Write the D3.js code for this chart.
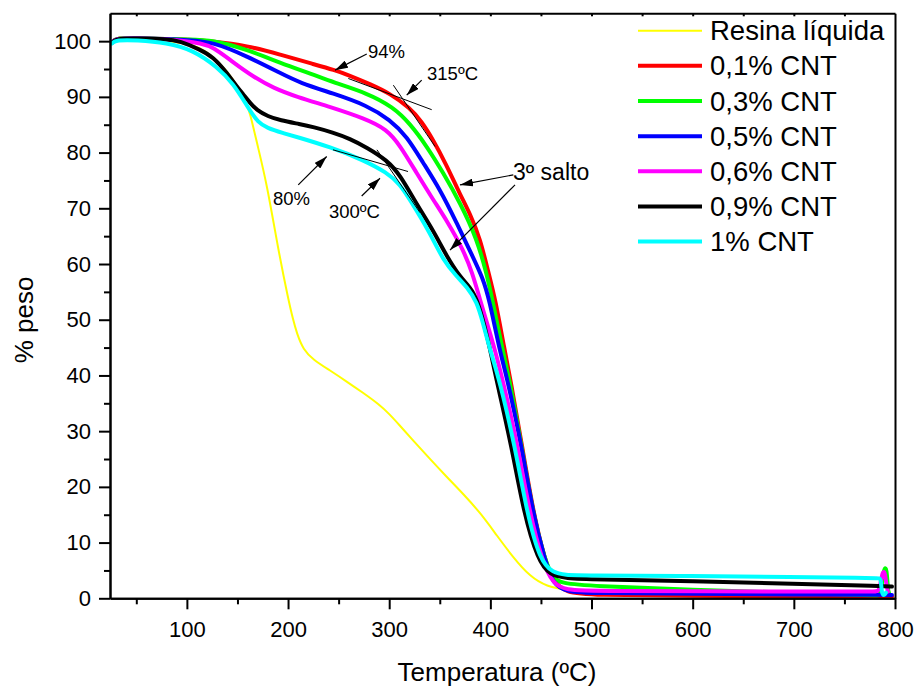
<!DOCTYPE html>
<html>
<head>
<meta charset="utf-8">
<script src="https://cdn.jsdelivr.net/npm/d3@7"></script>
<style>
  body { margin: 0; background: #fff; }
  svg { display: block; }
  text { font-family: "Liberation Sans", Arial, Helvetica, sans-serif; fill: #000; }
</style>
</head>
<body>
<svg id="chart" width="916" height="689"></svg>
<script>
// ---- TGA curves: [temperature ºC, weight %] ----
const seriesNames  = ["Resina líquida", "0,1% CNT", "0,3% CNT", "0,5% CNT", "0,6% CNT", "0,9% CNT", "1% CNT"];
const seriesColors = ["#ffff00", "#ff0000", "#00ff00", "#0000ff", "#ff00ff", "#000000", "#00ffff"];

const resina = [[25,99.9],[30,100.3],[50,100.3],[80,100.1],[100,99.6],[113,98.8],[125,97.4],[140,94.6],[150,92.0],[160,88.3],
  [162.4,87.1],[170.5,80.8],[178.9,74.5],[190.4,62.5],[200.3,53.6],[205,50.0],[208.6,47.6],[215.1,44.6],[225,42.8],[241.5,40.9],
  [258,38.9],[274,36.9],[290,34.8],[300,33.1],[310,31.1],[323.8,28.3],[340.3,25.0],[356.8,21.8],[373.3,18.7],[389.8,15.4],[406.3,11.3],
  [422.7,7.3],[439.2,3.9],[455.7,2.1],[475.5,1.5],[488.6,1.3],[520,1.0],[600,0.7],[700,0.5],[797,0.4]];

const cnt01 = [[26,99.8],[30,100.6],[50,100.5],[80,100.4],[100,100.3],[125.8,100.0],[159.4,99.2],[192.1,97.6],[224.7,95.9],[246,94.8],
  [260,93.9],[281,92.3],[300.8,90.6],[320.6,88.0],[332,85.6],[343.4,82.3],[356,78.0],[370,72.5],[380,69.0],[390,64.5],[398,58.5],
  [405,53.6],[414,44.6],[420,39.2],[431.5,27.2],[442.5,15.3],[454,6.8],[462,3.0],[475,1.0],[500,0.6],[600,0.45],[700,0.35],[797,0.3]];

const cnt03 = [[26,99.8],[30,100.6],[50,100.5],[80,100.4],[100,100.3],[125.8,100.2],[159.4,98.5],[192.1,96.1],[224.7,94.0],[244.8,92.6],
  [277.8,90.7],[303.8,88.2],[320.6,85.2],[337.3,81.1],[353.3,76.4],[370.1,71.0],[386.8,64.5],[396.7,58.0],[402,53.6],[412,44.6],
  [419,39.2],[431,27.2],[442,15.3],[454,6.8],[462,3.6],[470,2.7],[500,2.2],[600,1.5],[700,1.0],[770,0.6],[783,0.5],[785,0.5],
  [787,2.5],[789,5.0],[790,5.4],[791,5.4],[792,4.5],[793,1.5],[794,1.0]];

const cnt05 = [[26,99.8],[30,100.5],[50,100.5],[80,100.4],[100,100.2],[125.8,99.9],[159.4,97.3],[192.1,94.3],[211.8,92.5],[244.8,90.6],
  [277.8,88.5],[300.8,85.9],[317.5,82.9],[333.4,78.2],[350.2,73.4],[366.7,67.4],[382.6,61.3],[392.5,57.5],[399,53.6],[409,44.6],
  [417,39.2],[431,27.2],[442,15.3],[454,6.8],[462,2.5],[475,1.2],[500,0.9],[600,0.8],[700,0.7],[797,0.6]];

const cnt06 = [[26,99.8],[30,100.5],[50,100.5],[80,100.3],[100,100.0],[113,99.6],[125.8,99.0],[145.6,96.2],[165.7,93.6],[185.4,91.6],
  [208.6,90.0],[241.5,88.2],[276,86.1],[297.5,84.2],[310.7,81.3],[327.2,76.3],[343.6,71.5],[358,67.5],[373.3,62.5],[382,58.5],
  [389.8,53.6],[397,49.2],[404.6,44.6],[413,38.5],[420,33.0],[427,27.2],[439,15.3],[451,6.8],[462,2.5],[475,1.5],[500,1.3],
  [700,1.2],[780,1.2],[784,1.2],[786,3.0],[787.5,4.5],[789,4.8],[790,4.5],[791.5,2.5],[793,1.2]];

const cnt09 = [[26,99.7],[30,100.5],[50,100.5],[80.3,100.4],[93.2,100.0],[113,98.5],[125.8,97.2],[139.7,94.3],[149.5,91.8],[155.5,90.5],
  [163,88.8],[169.3,87.6],[180,86.5],[192.1,85.8],[212,85.1],[224.7,84.6],[244.5,83.6],[261,82.5],[278,80.9],[298,78.6],[310.7,76.0],
  [327.5,70.6],[343.3,66.1],[357.1,61.3],[370,57.7],[380,55.8],[386.8,53.8],[396.4,47.6],[406,39.2],[421.1,27.2],[433,15.3],[447,6.8],
  [459,4.1],[475,3.6],[500,3.4],[600,3.1],[700,2.6],[790,2.2],[797,2.1]];

const cnt10 = [[26,99.6],[30,100.2],[50,100.2],[80.3,99.7],[106,98.4],[129.8,95.4],[145.6,92.5],[162.4,87.5],[170,85.5],[179.2,84.4],
  [195,83.5],[208.9,82.8],[241.5,81.0],[274.1,78.7],[297.8,76.4],[310.7,74.3],[320.6,71.5],[340.3,65.6],[353.2,60.7],[367,57.7],
  [376.9,55.9],[386.8,53.2],[392.7,49.4],[399.6,44.6],[409,39.2],[424.4,27.2],[436.2,15.3],[449,6.8],[462,4.5],[475,4.2],[488.6,4.1],
  [600,4.0],[700,3.8],[770,3.65],[783,3.6],[785,3.6],[786,3.3],[787,1.0],[788,0.6],[789.5,0.6],[791,1.0]];

const seriesData = [resina, cnt01, cnt03, cnt05, cnt06, cnt09, cnt10];

// ---- axis ticks ----
const xTickValues  = [100, 200, 300, 400, 500, 600, 700, 800];
const xMinorValues = [50, 150, 250, 350, 450, 550, 650, 750];
const yTickValues  = [0, 10, 20, 30, 40, 50, 60, 70, 80, 90, 100];
const yMinorValues = [5, 15, 25, 35, 45, 55, 65, 75, 85, 95];
const topTickValues = [50, 100, 150, 200, 250, 300, 350, 400, 450, 500, 550, 600, 650, 700, 750];

// ---- annotations (data coordinates) ----
const annoTexts = [
  { t: "94%",      x: 279.0, y: 97.0, size: 18.5 },
  { t: "315ºC",    x: 337.4, y: 93.0, size: 18.5 },
  { t: "3º salto", x: 422.4, y: 75.1, size: 23 },
  { t: "80%",      x: 185.1, y: 70.6, size: 18.5 },
  { t: "300ºC",    x: 240.5, y: 68.3, size: 18.5 }
];
const annoArrows = [
  [[277.8, 97.7], [246.4, 94.8]],
  [[332.1, 93.0], [317.3, 90.3]],
  [[422.7, 76.0], [370.0, 74.2]],
  [[424.4, 74.2], [360.1, 62.5]],
  [[210.1, 74.2], [238.2, 79.3]],
  [[272.8, 72.2], [290.9, 75.4]]
];
const tangentLines = [
  [[259.6, 93.3], [342.0, 87.7]],
  [[304.1, 92.1], [345.3, 81.1]],
  [[244.4, 80.5], [318.6, 76.6]],
  [[287.9, 80.5], [330.5, 69.2]]
];

// ---- layout ----
const svg = d3.select("#chart");
const x = d3.scaleLinear().domain([24, 800]).range([110, 895]);
const y = d3.scaleLinear().domain([0, 105]).range([598.3, 13.3]);

const line = d3.line()
  .x(d => x(d[0]))
  .y(d => y(d[1]))
  .curve(d3.curveBasis);

// curves (legend order, later ones on top)
svg.append("g").attr("class", "curves")
  .selectAll("path")
  .data(seriesData)
  .join("path")
  .attr("d", d => line(d))
  .attr("fill", "none")
  .attr("stroke", (d, i) => seriesColors[i])
  .attr("stroke-width", (d, i) => i === 0 ? 2 : 4)
  .attr("stroke-linejoin", "round")
  .attr("stroke-linecap", "round");

// axes
function styleAxis(g) {
  g.select(".domain").attr("stroke", "#000").attr("stroke-width", 2);
  g.selectAll(".tick line").attr("stroke", "#000").attr("stroke-width", 2);
  g.selectAll(".tick text").attr("font-size", 22).attr("font-family", '"Liberation Sans", Arial, sans-serif').attr("fill", "#000");
}

svg.append("g")
  .attr("transform", `translate(0,${y(0)})`)
  .call(d3.axisBottom(x).tickValues(xMinorValues).tickSize(6).tickSizeOuter(0).tickFormat(""))
  .call(styleAxis);
svg.append("g")
  .attr("transform", `translate(0,${y(0)})`)
  .call(d3.axisBottom(x).tickValues(xTickValues).tickSize(11).tickSizeOuter(0).tickPadding(12))
  .call(styleAxis);

svg.append("g")
  .attr("transform", `translate(${x(24)},0)`)
  .call(d3.axisLeft(y).tickValues(yMinorValues).tickSize(6).tickSizeOuter(0).tickFormat(""))
  .call(styleAxis);
svg.append("g")
  .attr("transform", `translate(${x(24)},0)`)
  .call(d3.axisLeft(y).tickValues(yTickValues).tickSize(11).tickSizeOuter(0).tickPadding(8))
  .call(styleAxis);

// top and right frame
svg.append("g")
  .attr("transform", `translate(0,${y(105)})`)
  .call(d3.axisTop(x).tickValues(topTickValues).tickSize(-3).tickSizeOuter(0).tickFormat(""))
  .call(styleAxis);
svg.append("g")
  .attr("transform", `translate(${x(800)},0)`)
  .call(d3.axisRight(y).tickValues([]).tickSizeOuter(0))
  .call(styleAxis);

// axis titles
svg.append("text")
  .attr("x", 497).attr("y", 681)
  .attr("text-anchor", "middle")
  .attr("font-size", 26)
  .text("Temperatura (ºC)");
svg.append("text")
  .attr("transform", "translate(33,320) rotate(-90)")
  .attr("text-anchor", "middle")
  .attr("font-size", 26)
  .text("% peso");

// annotations
const defs = svg.append("defs");
defs.append("marker")
  .attr("id", "arrowHead")
  .attr("viewBox", "0 0 10 10")
  .attr("refX", 10).attr("refY", 5)
  .attr("markerWidth", 13).attr("markerHeight", 8)
  .attr("markerUnits", "userSpaceOnUse")
  .attr("preserveAspectRatio", "none")
  .attr("orient", "auto")
  .append("path")
  .attr("d", "M0,0 L10,5 L0,10 Z")
  .attr("fill", "#000");

const anno = svg.append("g").attr("class", "annotations");
anno.selectAll("line.tangent")
  .data(tangentLines)
  .join("line")
  .attr("class", "tangent")
  .attr("x1", d => x(d[0][0])).attr("y1", d => y(d[0][1]))
  .attr("x2", d => x(d[1][0])).attr("y2", d => y(d[1][1]))
  .attr("stroke", "#000").attr("stroke-width", 1);

anno.selectAll("line.arrow")
  .data(annoArrows)
  .join("line")
  .attr("class", "arrow")
  .attr("x1", d => x(d[0][0])).attr("y1", d => y(d[0][1]))
  .attr("x2", d => x(d[1][0])).attr("y2", d => y(d[1][1]))
  .attr("stroke", "#000").attr("stroke-width", 1.2)
  .attr("marker-end", "url(#arrowHead)");

anno.selectAll("text")
  .data(annoTexts)
  .join("text")
  .attr("x", d => x(d.x)).attr("y", d => y(d.y))
  .attr("font-size", d => d.size)
  .text(d => d.t);

// legend
const legend = svg.append("g").attr("class", "legend");
const rows = legend.selectAll("g")
  .data(seriesNames)
  .join("g")
  .attr("transform", (d, i) => `translate(0,${30.7 + i * 35.15})`);
rows.append("line")
  .attr("x1", 638).attr("x2", 702)
  .attr("stroke", (d, i) => seriesColors[i])
  .attr("stroke-width", (d, i) => i === 0 ? 2 : 4);
rows.append("text")
  .attr("x", 710).attr("y", 9.5)
  .attr("font-size", 27.5)
  .text(d => d);
</script>
</body>
</html>
